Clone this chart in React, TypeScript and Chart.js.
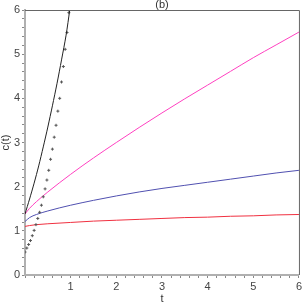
import React, { useEffect, useRef } from "react";
import { Chart, registerables } from "chart.js";

Chart.register(...registerables);

// Black solid curve
const tBlack = [0, 0.1, 0.2, 0.3, 0.4, 0.5, 0.6, 0.7, 0.8, 0.9, 0.98];
const cBlack = [1.38, 1.72, 2.08, 2.47, 2.9, 3.35, 3.83, 4.33, 4.87, 5.43, 6.0];

// Dotted "+" series
const tDots = [0, 0.04, 0.08, 0.12, 0.16, 0.2, 0.24, 0.28, 0.32, 0.36, 0.4, 0.44, 0.48, 0.52, 0.56, 0.6, 0.64, 0.68, 0.72, 0.76, 0.8, 0.84, 0.88, 0.92, 0.96];
const cDots = [0.52, 0.61, 0.69, 0.78, 0.89, 1.01, 1.14, 1.28, 1.42, 1.58, 1.77, 1.95, 2.15, 2.37, 2.62, 2.85, 3.12, 3.39, 3.71, 4.0, 4.37, 4.72, 5.11, 5.49, 5.94];

// Common time grid for the slow curves
const tCurve = [0, 0.1, 0.25, 0.5, 1, 1.5, 2, 2.5, 3, 3.5, 4, 4.5, 5, 5.5, 6];
const cMagenta = [1.38, 1.51, 1.66, 1.88, 2.28, 2.65, 3.0, 3.34, 3.67, 3.99, 4.3, 4.61, 4.92, 5.21, 5.5];
const cBlue = [1.21, 1.3, 1.37, 1.45, 1.58, 1.69, 1.79, 1.88, 1.96, 2.03, 2.1, 2.17, 2.24, 2.31, 2.37];
const cRed = [1.1, 1.12, 1.14, 1.16, 1.19, 1.22, 1.24, 1.26, 1.28, 1.3, 1.31, 1.33, 1.34, 1.36, 1.37];

const xTitle = "t";
const yTitle = "c(t)";
const chartTitle = "(b)";

const toXY = (xs: number[], ys: number[]) => xs.map((x, i) => ({ x, y: ys[i] }));

const isInt = (v: number) => Math.abs(v - Math.round(v)) < 1e-6;

export default function App() {
  const ref = useRef<HTMLCanvasElement | null>(null);

  useEffect(() => {
    if (!ref.current) return;
    const font = "'Liberation Sans', Arial, sans-serif";
    const framePlugin = {
      id: "frame",
      afterDraw(chart: any) {
        const { ctx, chartArea } = chart;
        ctx.save();
        ctx.strokeStyle = "#666";
        ctx.lineWidth = 1;
        ctx.beginPath();
        ctx.moveTo(chartArea.left, chartArea.top + 0.5);
        ctx.lineTo(chartArea.right + 0.5, chartArea.top + 0.5);
        ctx.lineTo(chartArea.right + 0.5, chartArea.bottom);
        ctx.stroke();
        ctx.fillStyle = "#333";
        ctx.font = `11px ${font}`;
        ctx.textAlign = "center";
        ctx.textBaseline = "middle";
        ctx.fillText(chartTitle, (chartArea.left + chartArea.right) / 2, 5);
        ctx.fillText(xTitle, (chartArea.left + chartArea.right) / 2, 299);
        ctx.translate(6, (chartArea.top + chartArea.bottom) / 2);
        ctx.rotate(-Math.PI / 2);
        ctx.fillText(yTitle, 0, 0);
        ctx.restore();
      },
    };

    const chart = new Chart(ref.current, {
      type: "line",
      data: {
        datasets: [
          {
            data: toXY(tBlack, cBlack),
            borderColor: "#222",
            borderWidth: 1,
            pointRadius: 0,
            tension: 0.3,
          },
          {
            data: toXY(tDots, cDots),
            showLine: false,
            pointStyle: "cross",
            pointRadius: 1.5,
            borderColor: "#555",
            pointBorderColor: "#555",
            pointBorderWidth: 1,
          },
          {
            data: toXY(tCurve, cMagenta),
            borderColor: "#ff40c0",
            borderWidth: 1,
            pointRadius: 0,
            cubicInterpolationMode: "monotone",
          },
          {
            data: toXY(tCurve, cBlue),
            borderColor: "#5050b0",
            borderWidth: 1,
            pointRadius: 0,
            cubicInterpolationMode: "monotone",
          },
          {
            data: toXY(tCurve, cRed),
            borderColor: "#f03040",
            borderWidth: 1,
            pointRadius: 0,
            cubicInterpolationMode: "monotone",
          },
        ],
      } as any,
      options: {
        animation: false,
        responsive: false,
        layout: { padding: { top: 10, right: 3, left: 0, bottom: 0 } },
        plugins: { legend: { display: false }, tooltip: { enabled: false }, title: { display: false } },
        scales: {
          x: {
            type: "linear",
            min: 0,
            max: 6,
            afterFit: (s: any) => {
              s.height = 29;
            },
            border: { display: true, color: "#b0b0b0", width: 2 },
            grid: { drawOnChartArea: false, tickLength: 3, color: "#888" },
            ticks: {
              stepSize: 0.2,
              autoSkip: false,
              maxRotation: 0,
              padding: 2,
              color: "#444",
              font: { family: font, size: 11 },
              callback: (v: any) => (isInt(v) && Math.round(v) !== 0 ? String(Math.round(v)) : ""),
            },
          },
          y: {
            type: "linear",
            min: 0,
            max: 6,
            afterFit: (s: any) => {
              s.width = 25;
            },
            border: { display: true, color: "#b0b0b0", width: 2 },
            grid: { drawOnChartArea: false, tickLength: 3, color: "#888" },
            ticks: {
              stepSize: 0.2,
              autoSkip: false,
              padding: 2,
              color: "#444",
              font: { family: font, size: 11 },
              callback: (v: any) => (isInt(v) ? String(Math.round(v)) : ""),
            },
          },
        },
      } as any,
      plugins: [framePlugin],
    });
    return () => chart.destroy();
  }, []);

  return (
    <div style={{ position: "fixed", left: 0, top: 0, width: 304, height: 304, background: "#fff" }}>
      <canvas ref={ref} width={304} height={304} style={{ width: 304, height: 304 }} />
    </div>
  );
}
